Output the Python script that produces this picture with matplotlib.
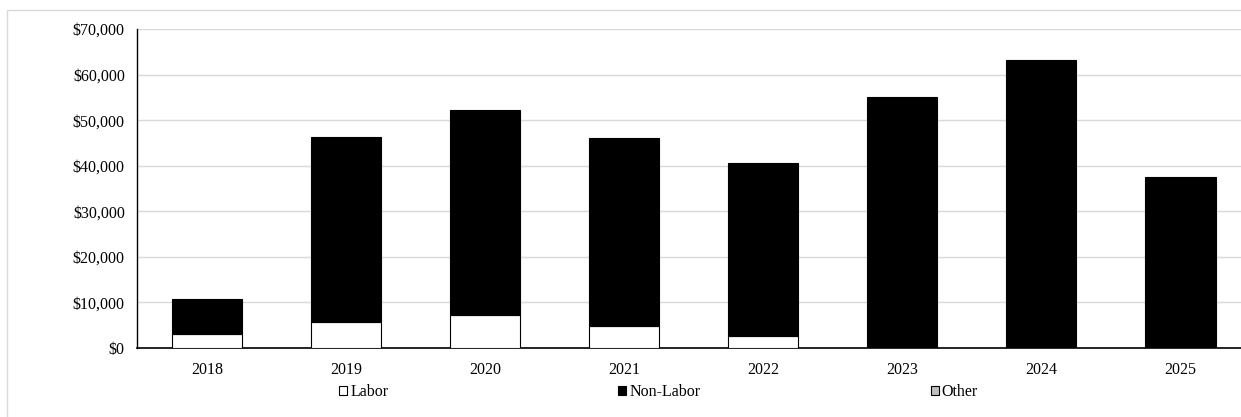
import matplotlib
matplotlib.use("Agg")
import matplotlib.pyplot as plt
from matplotlib.patches import Rectangle, Patch
from matplotlib.ticker import FuncFormatter
import numpy as np

years = ["2018", "2019", "2020", "2021", "2022", "2023", "2024", "2025"]
labor = [3100, 5600, 7200, 4900, 2700, 0, 0, 0]
non_labor = [7700, 40600, 45100, 41100, 37900, 55100, 63300, 37500]
other = [0, 0, 0, 0, 0, 0, 0, 0]
series_names = ["Labor", "Non-Labor", "Other"]
series_colors = ["#ffffff", "#000000", "#bfbfbf"]

FS = 11.5
plt.rcParams["font.family"] = ["Liberation Serif", "DejaVu Serif"]
plt.rcParams["font.size"] = FS

W, H = 1241, 417
fig = plt.figure(figsize=(W / 100, H / 100), dpi=100)

# outer chart border
fig.patches.append(Rectangle((7 / W, -0.1), 1.2, (H - 10) / H + 0.1,
                             transform=fig.transFigure, fill=False,
                             edgecolor="#d9d9d9", linewidth=1.0))

left, right = 137.3, 1250.0
top, bottom = 29.0, 348.0
ax = fig.add_axes([left / W, 1 - bottom / H, (right - left) / W, (bottom - top) / H])

x = np.arange(len(years))
bw = 0.505
labor_a = np.array(labor)
non_a = np.array(non_labor)
other_a = np.array(other)
ax.bar(x, labor_a, bw, color=series_colors[0], edgecolor="#000000", linewidth=0.8, zorder=3)
ax.bar(x, non_a, bw, bottom=labor_a, color=series_colors[1], edgecolor="#000000", linewidth=0.8, zorder=3)
ax.bar(x, other_a, bw, bottom=labor_a + non_a, color=series_colors[2], edgecolor="#000000", linewidth=0.0, zorder=3)

ax.set_xlim(-0.5, len(years) - 0.5)
ax.set_ylim(0, 70000)
ax.set_yticks(np.arange(0, 70001, 10000))
ax.yaxis.set_major_formatter(FuncFormatter(lambda v, p: "${:,.0f}".format(v)))
ax.set_xticks(x)
ax.set_xticklabels(years)
ax.tick_params(axis="both", length=0, labelsize=FS, colors="#000000")
ax.tick_params(axis="x", pad=10)
ax.tick_params(axis="y", pad=9)
ax.grid(axis="y", color="#d9d9d9", linewidth=1.0, zorder=0)
for s in ["top", "right"]:
    ax.spines[s].set_visible(False)
ax.spines["left"].set_color("#000000")
ax.spines["bottom"].set_color("#000000")
ax.spines["left"].set_linewidth(1.0)
ax.spines["bottom"].set_linewidth(1.2)
ax.set_axisbelow(True)

handles = [Patch(facecolor=c, edgecolor="#000000", linewidth=0.8) for c in series_colors]
leg = fig.legend(handles, series_names, loc="center left",
                 bbox_to_anchor=(339 / W, 1 - 392 / H), ncol=3, frameon=False,
                 handlelength=0.5, handleheight=0.5, handletextpad=0.2,
                 columnspacing=14.4, borderaxespad=0, borderpad=0, fontsize=FS)

fig.savefig("out.png", dpi=100)
